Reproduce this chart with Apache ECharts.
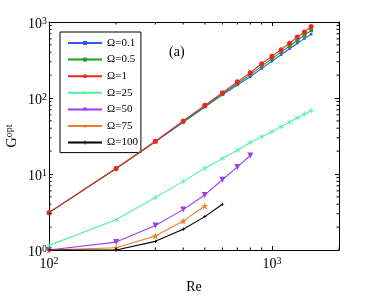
<!DOCTYPE html>
<html><head><meta charset="utf-8">
<script src="https://cdn.jsdelivr.net/npm/echarts@6/dist/echarts.min.js"></script>
<style>html,body{margin:0;padding:0;background:#fff}#c{width:374px;height:299px}</style>
</head><body><div id="c"></div>
<script>
const re = [100,200,300,400,500,600,700,800,900,1000,1100,1200,1300,1400,1500];
const g01  = [3.1,11.8,26.5,48,76,110,148,190,245,305,370,445,525,605,690];
const g05  = [3.1,11.8,26.8,49,78,113,155,203,263,330,402,484,575,670,776];
const g1   = [3.1,11.8,27,50,80,117,163,215,283,353,433,527,633,740,872];
const g25  = [1.15,2.5,4.9,8.0,11.9,16,20.5,26,31,36,42,48,55,61.5,68];
const g50  = [1.0,1.27,2.1,3.4,5.3,8.4,12.4,17.5];
const g75  = [1.0,1.07,1.53,2.4,3.8];
const g100 = [1.0,1.0,1.3,1.88,2.75,4.0];
const names = ['Ω=0.1','Ω=0.5','Ω=1','Ω=25','Ω=50','Ω=75','Ω=100'];
const colors = ['#3358f6','#1f9e1f','#f42424','#4ff2a6','#9b3ff2','#ef7a2a','#000000'];
const xTicks = [100,1000];
const yTicks = [1,10,100,1000];
const xMinor = [200,300,400,500,600,700,800,900,2000];
const yMinor = [2,3,4,5,6,7,8,9,20,30,40,50,60,70,80,90,200,300,400,500,600,700,800,900];

const FONT = 'Liberation Serif';
const STAR = 'path://M50,0 L61,35 L98,35 L68,57 L79,91 L50,70 L21,91 L32,57 L2,35 L39,35 Z';
const PLUS = 'path://M40,0h20v40h40v20h-40v40h-20v-40h-40v-20h40z';
const AST = 'path://M44,0h12v38l33,-19 6,10 -33,19 33,19 -6,10 -33,-19v38h-12v-38l-33,19 -6,-10 33,-19 -33,-19 6,-10 33,19z';
const symbols = [
  {symbol:'rect', size:2.5},
  {symbol:'rect', size:4},
  {symbol:'circle', size:5},
  {symbol:AST, size:5.5},
  {symbol:'triangle', size:6, rotate:180},
  {symbol:STAR, size:7},
  {symbol:PLUS, size:3.5}
];
const ys = [g01,g05,g1,g25,g50,g75,g100];

function expLabel(v){
  const e = Math.log10(v);
  return '{b|10}{s|' + Math.round(e) + '}';
}
const rich = {
  b:{fontFamily:FONT, fontSize:14, color:'#000', lineHeight:16},
  s:{fontFamily:FONT, fontSize:10, color:'#000', verticalAlign:'top', lineHeight:10}
};

const series = ys.map((arr,i)=>({
  name:names[i], type:'line',
  data: arr.map((v,j)=>[re[j], v]),
  symbol:symbols[i].symbol, symbolSize:symbols[i].size, symbolRotate:symbols[i].rotate||0,
  showAllSymbol:true, clip:false,
  lineStyle:{color:colors[i], width:1.1},
  itemStyle:{color:colors[i]},
  z:3+i
}));

const minorData = xMinor.map(v=>[v,1,0]).concat(yMinor.map(v=>[100,v,1]));
series.push({
  type:'custom', name:'minor', silent:true, clip:false,
  data:minorData, encode:{x:0,y:1},
  renderItem:function(params, api){
    const kind = api.value(2);
    const L = 2.5;
    const st = {stroke:'#000', lineWidth:1};
    if (kind === 0) {
      const v = api.value(0);
      const b = api.coord([v,1]); const t = api.coord([v,1000]);
      return {type:'group', children:[
        {type:'line', shape:{x1:b[0],y1:b[1],x2:b[0],y2:b[1]-L}, style:st},
        {type:'line', shape:{x1:t[0],y1:t[1],x2:t[0],y2:t[1]+L}, style:st}
      ]};
    } else {
      const v = api.value(1);
      const l = api.coord([100,v]); const r = api.coord([2000,v]);
      return {type:'group', children:[
        {type:'line', shape:{x1:l[0],y1:l[1],x2:l[0]+L,y2:l[1]}, style:st},
        {type:'line', shape:{x1:r[0],y1:r[1],x2:r[0]-L,y2:r[1]}, style:st}
      ]};
    }
  },
  z:10
});

function axisCommon(ticks){
  return {
    axisLine:{show:true, onZero:false, lineStyle:{color:'#000', width:1}},
    axisTick:{show:true, inside:true, length:4, lineStyle:{color:'#000'}, customValues:ticks},
    splitLine:{show:false}
  };
}

const option = {
  animation:false,
  backgroundColor:'#fff',
  title:{text:'(a)', left:164, top:40, textStyle:{fontFamily:FONT, fontSize:14, fontWeight:'normal', color:'#000'}},
  grid:{left:49, right:35, top:22, bottom:40, containLabel:false},
  legend:{
    data:names, orient:'vertical', left:60, top:32,
    padding:[5,3,4,7], itemGap:4.6, itemWidth:34, itemHeight:5,
    borderColor:'#000', borderWidth:1, backgroundColor:'#fff',
    textStyle:{fontFamily:FONT, fontSize:11, color:'#000', lineHeight:12}
  },
  graphic:[{
    type:'text', x:12, y:136, rotation:Math.PI/2, z:20,
    style:{text:'{g|G}{s|opt}', align:'center', verticalAlign:'middle',
      rich:{g:{fontFamily:FONT, fontSize:14, fill:'#000', lineHeight:16},
            s:{fontFamily:FONT, fontSize:10, fill:'#000', verticalAlign:'top', lineHeight:10}}}
  }],
  xAxis:[
    Object.assign({type:'log', logBase:10, min:100, max:2000, position:'bottom',
      name:'Re', nameLocation:'middle', nameGap:30,
      nameTextStyle:{fontFamily:FONT, fontSize:14, color:'#000'},
      axisLabel:{formatter:expLabel, rich:rich, margin:6, customValues:xTicks}}, axisCommon(xTicks)),
    Object.assign({type:'log', logBase:10, min:100, max:2000, position:'top',
      axisLabel:{show:false}}, axisCommon(xTicks))
  ],
  yAxis:[
    Object.assign({type:'log', logBase:10, min:1, max:1000, position:'left',
      axisLabel:{formatter:expLabel, rich:rich, margin:2, padding:[5,0,0,0], customValues:yTicks}}, axisCommon(yTicks)),
    Object.assign({type:'log', logBase:10, min:1, max:1000, position:'right',
      axisLabel:{show:false}}, axisCommon(yTicks))
  ],
  series:series
};
const chart = echarts.init(document.getElementById('c'), null, {renderer:'canvas'});
chart.setOption(option);
</script>
</body></html>
